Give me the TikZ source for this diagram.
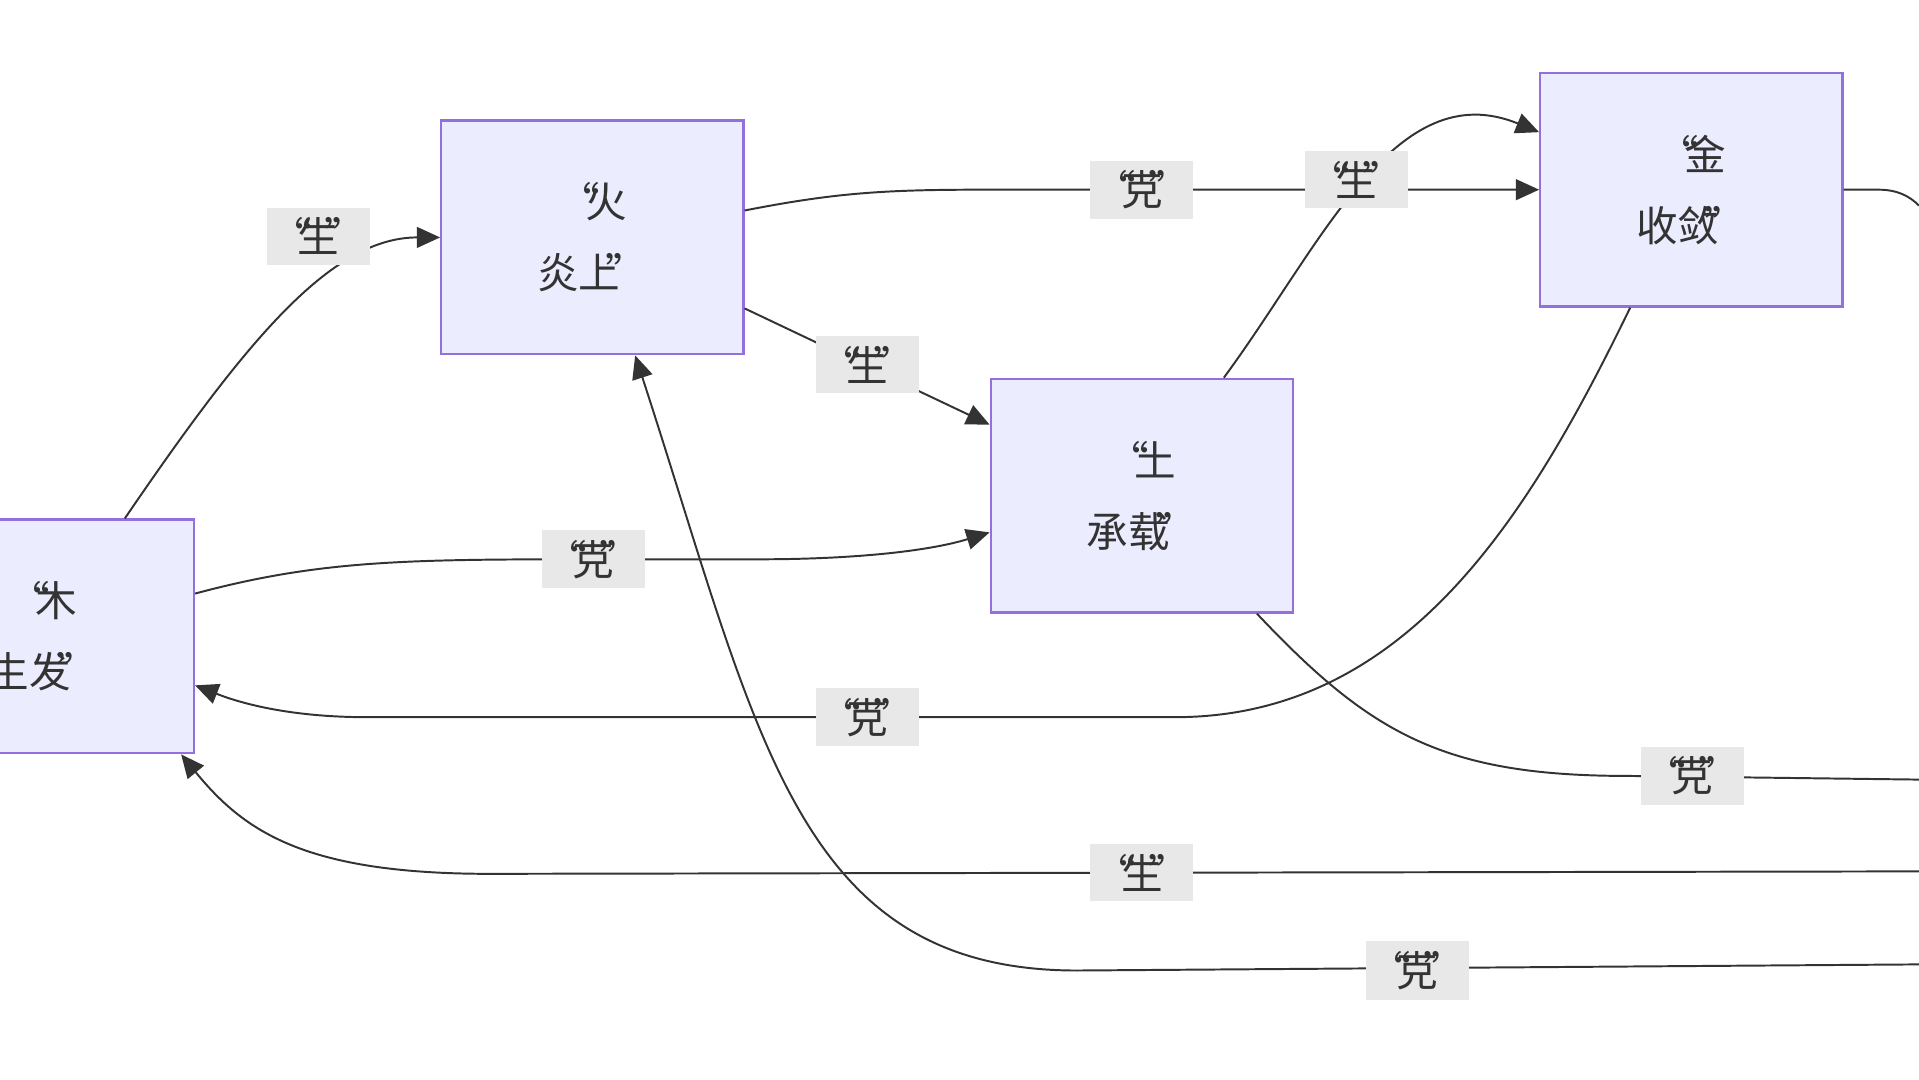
\documentclass[tikz,border=0pt]{standalone}
\usepackage{fontspec}
\setmainfont{Noto Sans CJK SC}
\usetikzlibrary{arrows.meta}
\newcommand{\oq}{“\kern-0.35em}
\newcommand{\cq}{\kern-0.35em”}
\begin{document}
\begin{tikzpicture}[x=1pt,y=-1pt,
  box/.style={draw={rgb,255:red,147;green,112;blue,219}, fill={rgb,255:red,236;green,236;blue,255}, line width=1.8pt, minimum width=247pt, minimum height=191pt, align=center, font=\fontsize{34}{58}\selectfont, text={rgb,255:red,51;green,51;blue,51}},
  lab/.style={fill={rgb,255:red,232;green,232;blue,232}, inner xsep=3pt, inner ysep=8pt, font=\fontsize{34}{40}\selectfont, text={rgb,255:red,51;green,51;blue,51}},
  e/.style={draw={rgb,255:red,51;green,51;blue,51}, line width=1.6pt},
  a/.style={e, -{Stealth[length=19pt,width=17pt,inset=0pt]}}]
\useasboundingbox (0,0) rectangle (1568,882);
\node[box] (wood) at (35,520) {\oq 木\\生发\cq};
\node[box] (fire) at (484,194) {\oq 火\\炎上\cq};
\node[box] (earth) at (933,405) {\oq 土\\承载\cq};
\node[box] (metal) at (1382,155) {\oq 金\\收敛\cq};
\coordinate (r1) at (1568,637);
\coordinate (r2) at (1568,712);
\coordinate (r3) at (1568,788);
\coordinate (r4) at (1568,168);
% Wood -> Fire
\draw[a] ([xshift=67pt]wood.north) .. controls (200,280) and (270,194) .. (fire.west);
% Fire -> Earth
\draw[a] ([yshift=-58pt]fire.east) -- ([yshift=58pt]earth.west);
% Earth -> Metal
\draw[a] ([xshift=67pt]earth.north) .. controls (1080,200) and (1140,60) .. ([yshift=47pt]metal.west);
% Fire -> Metal
\draw[a] ([yshift=22pt]fire.east) .. controls (680,158) and (720,155) .. (800,155) -- (metal.west);
% Wood -> Earth
\draw[a] ([yshift=35pt]wood.east) .. controls (260,458) and (330,457) .. (480,457) -- (620,457) .. controls (700,457) and (760,450) .. ([yshift=-30pt]earth.west);
% Metal -> Wood
\draw[a] ([xshift=-50pt]metal.south) .. controls (1250,420) and (1150,586) .. (960,586) -- (300,586) .. controls (230,586) and (190,572) .. ([yshift=-40pt]wood.east);
% Earth -> right
\draw[e] ([xshift=94pt]earth.south) .. controls (1120,600) and (1180,634) .. (1330,634) -- (r1);
% right -> Wood
\draw[a] (r2) -- (400,714) .. controls (250,714) and (200,680) .. ([xshift=113pt]wood.south);
% right -> Fire
\draw[a] (r3) -- (880,793) .. controls (650,793) and (620,600) .. ([xshift=35pt]fire.south);
% Metal -> right
\draw[e] (metal.east) -- (1535,155) .. controls (1550,155) and (1560,160) .. (r4);
\node[lab] at (260,193) {\oq 生\cq};
\node[lab] at (709,298) {\oq 生\cq};
\node[lab] at (1108,147) {\oq 生\cq};
\node[lab] at (933,155) {\oq 克\cq};
\node[lab] at (485,457) {\oq 克\cq};
\node[lab] at (709,586) {\oq 克\cq};
\node[lab] at (1383,634) {\oq 克\cq};
\node[lab] at (933,713) {\oq 生\cq};
\node[lab] at (1158,793) {\oq 克\cq};
\end{tikzpicture}
\end{document}
